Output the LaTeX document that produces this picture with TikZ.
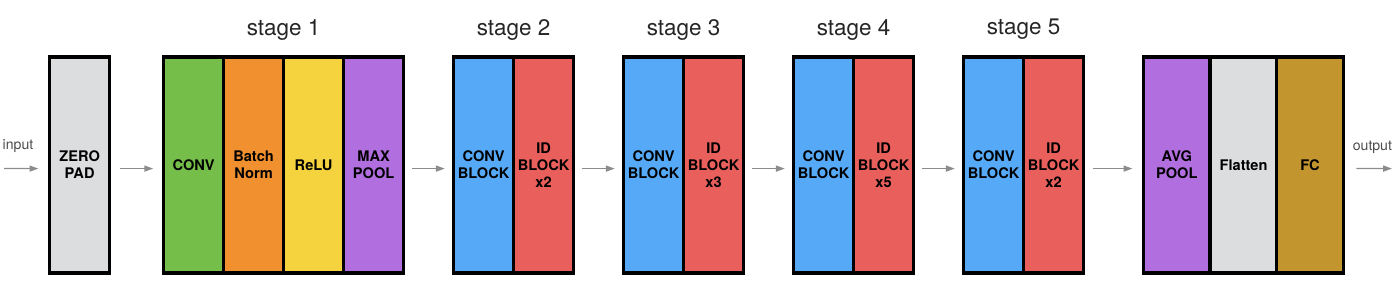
\documentclass[tikz,border=0pt]{standalone}
\usepackage{fontspec}
\setmainfont{TeX Gyre Heros}
\usepackage{xcolor}
\usetikzlibrary{arrows.meta, positioning, calc}

\definecolor{padgray}{HTML}{DCDDDF}
\definecolor{convgreen}{HTML}{76BE4A}
\definecolor{bnorange}{HTML}{F0902F}
\definecolor{reluyellow}{HTML}{F4D33F}
\definecolor{poolpurple}{HTML}{B16EDE}
\definecolor{cblue}{HTML}{56A9F7}
\definecolor{idred}{HTML}{E85F5C}
\definecolor{fcgold}{HTML}{C2952E}

\begin{document}
\begin{tikzpicture}[
    block/.style={rectangle, draw=black, line width=2.3pt, minimum width=1.5cm, minimum height=5.4cm, inner sep=0pt, align=center, font=\bfseries\fontsize{10.4}{12.2}\selectfont},
    wide/.style={block, minimum width=1.66cm},
    stagelbl/.style={font=\fontsize{16}{19}\selectfont, text=black!85},
    iolbl/.style={font=\fontsize{10}{12}\selectfont, text=black!70},
    arrow/.style={-{Triangle[length=0.22cm, width=0.15cm]}, line width=0.9pt, draw=black!45, shorten <=0.18cm, shorten >=0.18cm}
]
    \useasboundingbox (0,0) rectangle (34.9,7.1);

    \node[block, fill=padgray] (zp) at (1.99, 2.975) {ZERO\\PAD};

    \node[block, fill=convgreen] (conv) at (4.84, 2.975) {CONV};
    \node[block, fill=bnorange] (bn) at (6.34, 2.975) {Batch\\Norm};
    \node[block, fill=reluyellow] (relu) at (7.84, 2.975) {ReLU};
    \node[block, fill=poolpurple] (maxpool) at (9.34, 2.975) {MAX\\POOL};

    \node[block, fill=cblue] (cb2) at (12.09, 2.975) {CONV\\BLOCK};
    \node[block, fill=idred] (id2) at (13.59, 2.975) {ID\\BLOCK\\x2};
    \node[block, fill=cblue] (cb3) at (16.34, 2.975) {CONV\\BLOCK};
    \node[block, fill=idred] (id3) at (17.84, 2.975) {ID\\BLOCK\\x3};
    \node[block, fill=cblue] (cb4) at (20.59, 2.975) {CONV\\BLOCK};
    \node[block, fill=idred] (id4) at (22.09, 2.975) {ID\\BLOCK\\x5};
    \node[block, fill=cblue] (cb5) at (24.84, 2.975) {CONV\\BLOCK};
    \node[block, fill=idred] (id5) at (26.34, 2.975) {ID\\BLOCK\\x2};

    \node[wide, fill=poolpurple] (avgpool) at (29.42, 2.975) {AVG\\POOL};
    \node[wide, fill=padgray] (flatten) at (31.09, 2.975) {Flatten};
    \node[wide, fill=fcgold] (fc) at (32.75, 2.975) {FC};

    \node[stagelbl] (s1) at (7.09, 6.36) {stage 1};
    \node[stagelbl] (s2) at (12.84, 6.36) {stage 2};
    \node[stagelbl] (s3) at (17.09, 6.36) {stage 3};
    \node[stagelbl] (s4) at (21.34, 6.36) {stage 4};
    \node[stagelbl] (s5) at (25.59, 6.36) {stage 5};

    \coordinate (in) at (0.1, 2.885);
    \coordinate (out) at (34.8, 2.885);
    \node[iolbl] (inlbl) at (0.45, 3.45) {input};
    \node[iolbl] (outlbl) at (34.31, 3.42) {output};

    \draw[arrow, shorten <=0pt, shorten >=0.24cm] (in) -- ([yshift=-0.09cm]zp.west);
    \draw[arrow, shorten <=0.22cm, shorten >=0.22cm] ([yshift=-0.09cm]zp.east) -- ([yshift=-0.09cm]conv.west);
    \draw[arrow] ([yshift=-0.09cm]maxpool.east) -- ([yshift=-0.09cm]cb2.west);
    \draw[arrow] ([yshift=-0.09cm]id2.east) -- ([yshift=-0.09cm]cb3.west);
    \draw[arrow] ([yshift=-0.09cm]id3.east) -- ([yshift=-0.09cm]cb4.west);
    \draw[arrow] ([yshift=-0.09cm]id4.east) -- ([yshift=-0.09cm]cb5.west);
    \draw[arrow, shorten <=0.19cm, shorten >=0.24cm] ([yshift=-0.09cm]id5.east) -- ([yshift=-0.09cm]avgpool.west);
    \draw[arrow, shorten <=0.29cm, shorten >=0pt] ([yshift=-0.09cm]fc.east) -- (out);
\end{tikzpicture}
\end{document}
